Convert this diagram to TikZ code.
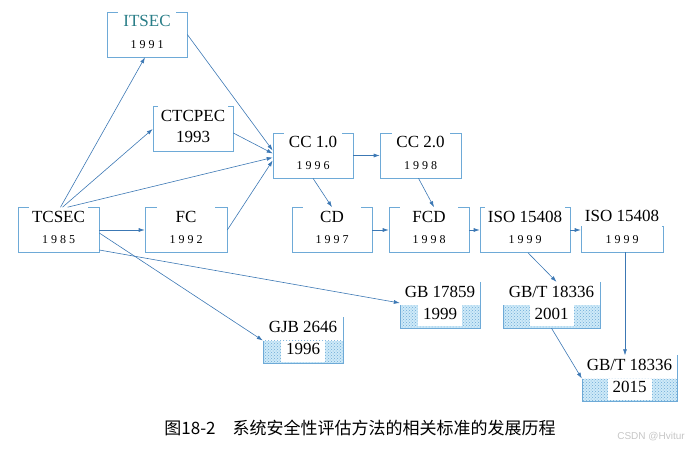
\documentclass[tikz,border=0pt]{standalone}
\usepackage{fontspec}
\setmainfont{Liberation Serif}
\newfontfamily\cjk{Noto Sans CJK SC}
\newfontfamily\markfont{Liberation Sans}
\usetikzlibrary{arrows.meta, patterns}

\definecolor{boxblue}{RGB}{110,170,215}
\definecolor{linkblue}{RGB}{60,120,180}
\definecolor{titleteal}{RGB}{40,125,135}
\definecolor{gbfill}{RGB}{185,225,245}

% year printed on a white patch inside the shaded part
\newcommand{\yrcell}[1]{{\setlength{\fboxsep}{1pt}\colorbox{white}{\rule[-6pt]{0pt}{19pt}\hspace{4pt}#1\hspace{4pt}}}}

\begin{document}
\begin{tikzpicture}[
        x = 1pt, y = -1pt,
        >= {Latex[length = 6pt, width = 4pt]},
        every edge/.style = {draw = linkblue, line width = 0.6pt},
        plainbox/.style = {draw = boxblue, line width = 0.6pt, minimum width = 80pt,
            minimum height = 45pt, text height = 27pt, text depth = 0pt,
            inner sep = 0pt, font = \fontsize{12}{12}\selectfont},
        ttl/.style = {anchor = north, yshift = 1pt, fill = white, inner xsep = 3pt,
            inner ysep = 1pt, minimum width = 58pt, text height = 15pt, text depth = 0pt,
            font = \fontsize{17}{17}\selectfont},
        stdbox/.style = {plainbox, label = {[ttl]north:#1}},
        gbttl/.style = {anchor = north, yshift = -2pt, inner sep = 0pt, text height = 13pt,
            text depth = 0pt, font = \fontsize{17}{17}\selectfont},
        gbbox/.style = {minimum width = 80pt, minimum height = 46pt, text height = 28pt,
            text depth = 0pt, inner sep = 0pt, font = \fontsize{17}{17}\selectfont,
            label = {[gbttl]north:#1},
            path picture = {
                \fill[gbfill!70] (path picture bounding box.west) rectangle (path picture bounding box.south east);
                \fill[pattern = crosshatch dots, pattern color = boxblue] (path picture bounding box.west) rectangle (path picture bounding box.south east);
            }}
    ]

    \useasboundingbox (0, 0) rectangle (694, 450);

    \node[stdbox = {\textcolor{titleteal}{ITSEC}}] (itsec) at (147, 34.5) {1 9 9 1};
    \node[stdbox = CTCPEC, font = \fontsize{17}{17}\selectfont] (ctcpec) at (193, 129) {1993};
    \node[stdbox = TCSEC, minimum width = 81pt] (tcsec) at (58.5, 230) {1 9 8 5};
    \node[stdbox = FC, minimum width = 82pt] (fc) at (186, 230) {1 9 9 2};
    \node[stdbox = CC 1.0] (cc1) at (313, 155.5) {1 9 9 6};
    \node[stdbox = CC 2.0, minimum width = 81pt] (cc2) at (420.5, 155.5) {1 9 9 8};
    \node[stdbox = CD] (cd) at (332, 230) {1 9 9 7};
    \node[stdbox = FCD] (fcd) at (429, 230) {1 9 9 8};
    \node[stdbox = ISO 15408, minimum width = 90pt] (iso1) at (525, 230) {1 9 9 9};
    \node[plainbox, minimum width = 82pt, minimum height = 26pt, text height = 8pt,
        label = {[ttl, yshift = 19pt, text depth = 6pt]north:ISO 15408}] (iso2) at (622, 239) {1 9 9 9};

    \node[gbbox = GJB 2646] (gjb) at (303, 340.5) {\yrcell{1996}};
    \node[gbbox = GB 17859] (gb) at (440, 305) {\yrcell{1999}};
    \node[gbbox = GB/T 18336, minimum width = 97pt] (gbt1) at (551.5, 305) {\yrcell{2001}};
    \node[gbbox = GB/T 18336, minimum width = 95pt] (gbt2) at (629.5, 378.5) {\yrcell{2015}};

    \foreach \n in {gjb, gb, gbt1, gbt2}
        \draw[boxblue, line width = 0.6pt] (\n.north east) -- (\n.south east) -- (\n.south west) -- (\n.west);

    \path[->]
        ([xshift = 2pt]tcsec.north) edge ([xshift = -2pt]itsec.south)
        ([xshift = 4pt]tcsec.north) edge (ctcpec.west)
        ([xshift = 9pt]tcsec.north) edge ([yshift = -2pt]cc1.west)
        (tcsec.east) edge (fc.west)
        ([yshift = -3pt]tcsec.east) edge (gjb.west)
        ([yshift = -20pt]tcsec.east) edge ([yshift = 2pt]gb.west)
        (itsec.east) edge ([yshift = 5pt]cc1.west)
        ([yshift = -4pt]ctcpec.east) edge ([yshift = 2pt]cc1.west)
        (fc.east) edge ([yshift = -5pt]cc1.west)
        (cc1.east) edge (cc2.west)
        (cc1.south) edge (cd.north)
        ([xshift = -2pt]cc2.south) edge ([xshift = 5pt]fcd.north)
        (cd.east) edge (fcd.west)
        (fcd.east) edge (iso1.west)
        (iso1.east) edge (iso1.east -| iso2.west)
        ([xshift = 3pt]iso1.south) edge ([xshift = 5pt]gbt1.north)
        ([xshift = 3pt]iso2.south) edge ([xshift = 3pt]iso2.south |- gbt2.north)
        (gbt1.south) edge (gbt2.west);

    \node[font = \cjk\fontsize{17}{17}\selectfont] (caption) at (360, 428)
        {图18-2\quad 系统安全性评估方法的相关标准的发展历程};
    \node[font = \markfont\fontsize{10}{10}\selectfont, text = gray!45] (mark) at (651, 437) {CSDN @Hvitur};

\end{tikzpicture}
\end{document}
